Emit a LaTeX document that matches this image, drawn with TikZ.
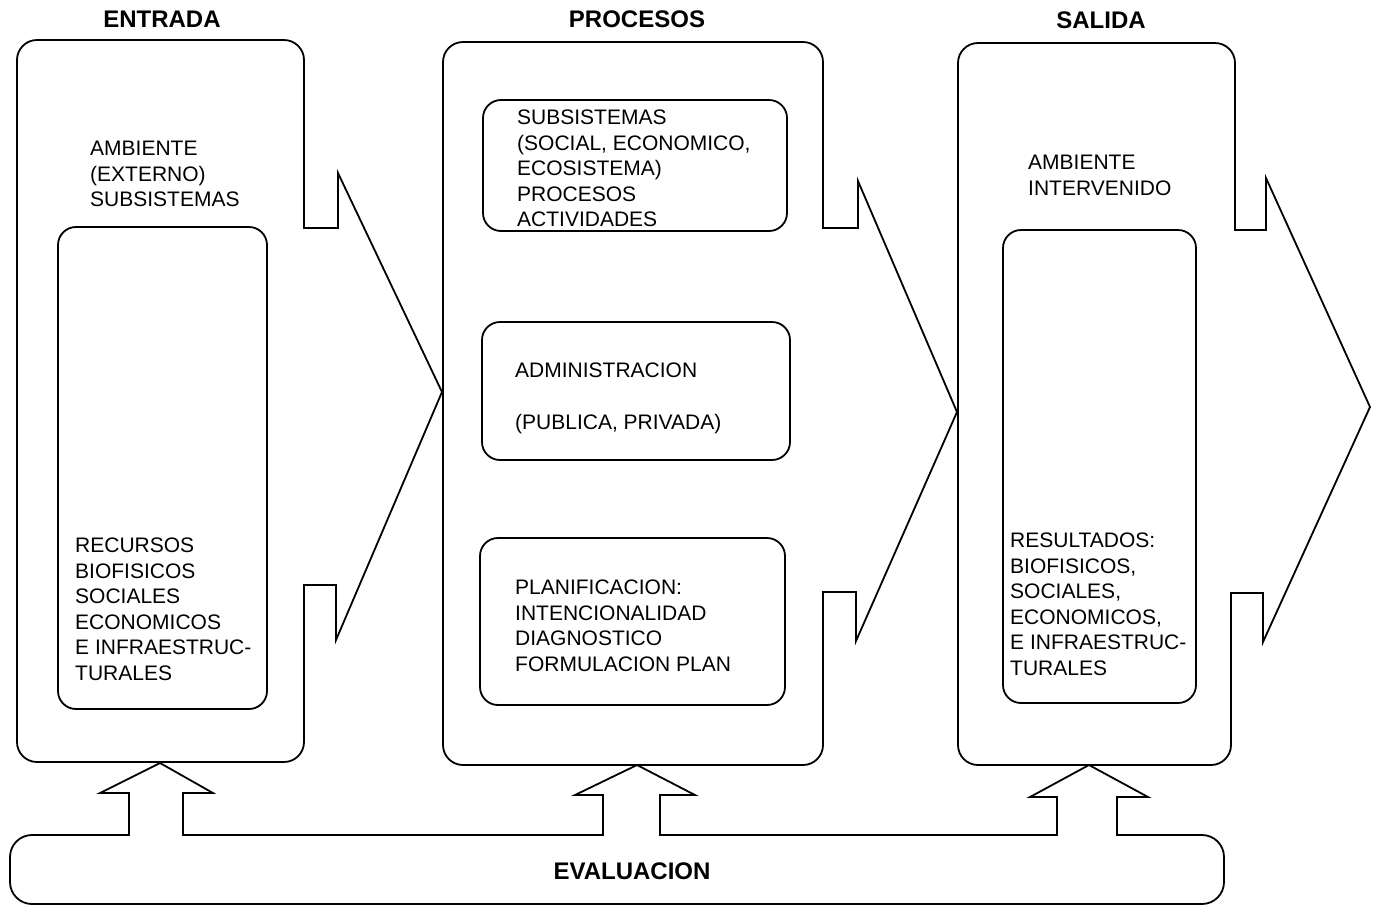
\documentclass[tikz,border=0pt]{standalone}
\usepackage{fontspec}
\setmainfont{Liberation Sans}
\begin{document}
\begin{tikzpicture}[x=1pt,y=-1pt,
  outline/.style={draw=black, line width=1.8pt, line cap=rect, line join=miter},
  roundpart/.style={outline, rounded corners=20pt},
  inbox/.style={draw=black, line width=1.8pt, rounded corners=18pt},
  txt/.style={anchor=north west, inner sep=0pt, align=left, font=\fontsize{21}{25.5}\selectfont},
  ttl/.style={inner sep=0pt, font=\fontsize{24}{28}\selectfont\bfseries}]
\useasboundingbox (0,0) rectangle (1374,906);

% ---- ENTRADA box ----
\draw[roundpart] (304,228) -- (304,40) -- (17,40) -- (17,762) -- (304,762) -- (304,585);
\draw[outline] (304,585) -- (336,585) -- (336,640) -- (442,392) -- (338,173) -- (338,228) -- (304,228);
\draw[inbox] (58,227) rectangle (267,709);

% ---- PROCESOS box ----
\draw[roundpart] (823,228) -- (823,42) -- (443,42) -- (443,765) -- (823,765) -- (823,592);
\draw[outline] (823,592) -- (856,592) -- (856,641) -- (957,412) -- (858,181) -- (858,228) -- (823,228);
\draw[inbox] (483,100) rectangle (787,231);
\draw[inbox] (482,322) rectangle (790,460);
\draw[inbox] (480,538) rectangle (785,705);

% ---- SALIDA box ----
\draw[roundpart] (1235,230) -- (1235,43) -- (958,43) -- (958,765) -- (1231,765) -- (1231,593);
\draw[outline] (1231,593) -- (1263,593) -- (1263,642) -- (1370,407) -- (1266,178) -- (1266,230) -- (1235,230);
\draw[inbox] (1003,230) rectangle (1196,703);

% ---- EVALUACION band with three up arrows ----
\draw[outline, rounded corners=22pt] (129,835) -- (10,835) -- (10,904) -- (1224,904) -- (1224,835) -- (1117,835);
\draw[outline] (1117,835) -- (1117,797) -- (1148,797) -- (1089,765) -- (1030,797) -- (1057,797) -- (1057,835)
  -- (660,835) -- (660,795) -- (695,795) -- (637,765) -- (575,795) -- (603,795) -- (603,835)
  -- (183,835) -- (183,793) -- (213,793) -- (160,763) -- (100,793) -- (129,793) -- (129,835);

% ---- titles ----
\node[ttl] (tent) at (162,19) {ENTRADA};
\node[ttl] (tpro) at (637,19) {PROCESOS};
\node[ttl] (tsal) at (1101,20) {SALIDA};
\node[ttl] (teva) at (632,871) {EVALUACION};

% ---- texts ----
\node[txt] (amb1) at (90,141) {AMBIENTE\\(EXTERNO)\\SUBSISTEMAS};
\node[txt] (rec) at (75,538) {RECURSOS\\BIOFISICOS\\SOCIALES\\ECONOMICOS\\E INFRAESTRUC-\\TURALES};
\node[txt] (sub) at (517,110) {SUBSISTEMAS\\(SOCIAL, ECONOMICO,\\ECOSISTEMA)\\PROCESOS\\ACTIVIDADES};
\node[txt] (adm) at (515,363) {ADMINISTRACION\\[26pt](PUBLICA, PRIVADA)};
\node[txt] (pla) at (515,580) {PLANIFICACION:\\INTENCIONALIDAD\\DIAGNOSTICO\\FORMULACION PLAN};
\node[txt] (amb2) at (1028,155) {AMBIENTE\\INTERVENIDO};
\node[txt] (res) at (1010,533) {RESULTADOS:\\BIOFISICOS,\\SOCIALES,\\ECONOMICOS,\\E INFRAESTRUC-\\TURALES};
\end{tikzpicture}
\end{document}
